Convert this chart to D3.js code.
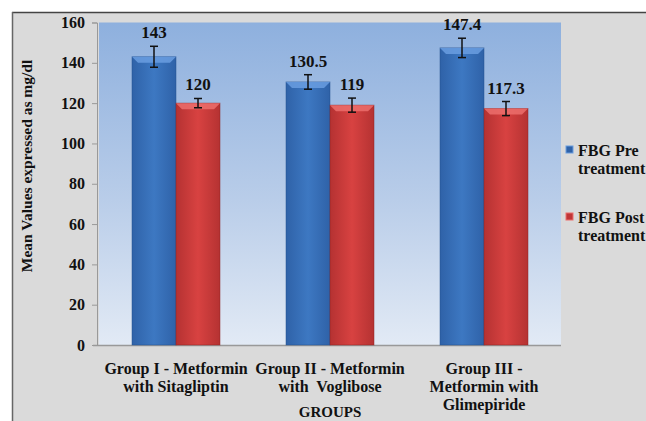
<!DOCTYPE html>
<html><head><meta charset="utf-8">
<script src="https://cdn.jsdelivr.net/npm/d3@7/dist/d3.min.js"></script>
<style>body{margin:0;background:#fff}svg{display:block}text{font-family:"Liberation Serif","Times New Roman",serif;font-weight:bold}</style>
</head><body>
<script>
const categories = [["Group I - Metformin","with Sitagliptin"],["Group II - Metformin","with  Voglibose"],["Group III -","Metformin with","Glimepiride"]];
const seriesNames = ["FBG Pre treatment","FBG Post treatment"];
const preValues = [143,130.5,147.4];
const postValues = [120,119,117.3];
const preErrors = [5.2,3.6,4.8];
const postErrors = [2.3,3.5,3.5];
const valueLabels = [["143","130.5","147.4"],["120","119","117.3"]];
const yTicks = [0,20,40,60,80,100,120,140,160];

(function(){
const W=646,H=421;
const svg=d3.select("body").append("svg").attr("width",W).attr("height",H);
const defs=svg.append("defs");
const bg=defs.append("linearGradient").attr("id","plotbg").attr("x1",0).attr("y1",0).attr("x2",0).attr("y2",1);
bg.append("stop").attr("offset","0%").attr("stop-color","#8eb0de");
bg.append("stop").attr("offset","55%").attr("stop-color","#b9cde9");
bg.append("stop").attr("offset","100%").attr("stop-color","#e2eaf5");
function hgrad(id,c1,c2,c3){const g=defs.append("linearGradient").attr("id",id).attr("x1",0).attr("y1",0).attr("x2",1).attr("y2",0);
 g.append("stop").attr("offset","0%").attr("stop-color",c1);
 g.append("stop").attr("offset","50%").attr("stop-color",c2);
 g.append("stop").attr("offset","100%").attr("stop-color",c3);}
hgrad("gblue","#2f62a8","#3d78c2","#2f62a8");
hgrad("gred","#b53232","#d84241","#b53232");

// outer frame
svg.append("rect").attr("x",12).attr("y",12).attr("width",W-12).attr("height",H-12).attr("fill","#dadada");
svg.append("line").attr("x1",12).attr("x2",W).attr("y1",12.5).attr("y2",12.5).attr("stroke","#444").attr("stroke-width",1.5);
svg.append("line").attr("x1",12.5).attr("x2",12.5).attr("y1",12).attr("y2",H).attr("stroke","#666").attr("stroke-width",1.5);

const pL=99,pR=561,pT=22.5,pB=345;
const x0=d3.scaleBand().domain(d3.range(categories.length)).range([pL,pR]).paddingInner(0).paddingOuter(0);
const x1=d3.scaleBand().domain([0,1]).range([0,x0.bandwidth()]).paddingInner(0).paddingOuter(0.75);
const y=d3.scaleLinear().domain([0,160]).range([pB,pT]);

svg.append("rect").attr("x",pL).attr("y",pT).attr("width",pR-pL).attr("height",pB-pT).attr("fill","url(#plotbg)");

// axes
const yAxis=svg.append("g").attr("transform",`translate(${pL-2},0)`).call(d3.axisLeft(y).tickValues(yTicks).tickSize(5).tickPadding(7));
yAxis.attr("font-family",null);
yAxis.select(".domain").attr("stroke","#999");
yAxis.selectAll(".tick line").attr("stroke","#999");
yAxis.selectAll("text").attr("font-size",16).attr("fill","#111");
svg.append("line").attr("x1",pL-6).attr("x2",pR).attr("y1",pB+0.5).attr("y2",pB+0.5).attr("stroke","#999").attr("stroke-width",1.5);

const series=[{vals:preValues,err:preErrors,fill:"url(#gblue)",tc:"#6a9de0",edge:"#24518f"},
              {vals:postValues,err:postErrors,fill:"url(#gred)",tc:"#ec6e6c",edge:"#8f2424"}];
series.forEach((s,si)=>{
  const g=svg.append("g");
  s.vals.forEach((v,i)=>{
    const bx=x0(i)+x1(si), bw=x1.bandwidth(), by=y(v), bh=pB-by;
    g.append("rect").attr("x",bx).attr("y",by).attr("width",bw).attr("height",bh).attr("fill",s.fill).attr("stroke",s.edge).attr("stroke-width",0.8).attr("stroke-opacity",0.6);
    g.append("path").attr("d",`M${bx},${by}L${bx+bw},${by}L${bx+bw-6},${by+6}L${bx+6},${by+6}Z`).attr("fill",s.tc).attr("opacity",0.85);
    const cx=bx+bw/2, e1=y(v+s.err[i]), e2=y(v-s.err[i]);
    g.append("line").attr("x1",cx).attr("x2",cx).attr("y1",e1).attr("y2",e2).attr("stroke","#111").attr("stroke-width",1.5);
    g.append("line").attr("x1",cx-4).attr("x2",cx+4).attr("y1",e1).attr("y2",e1).attr("stroke","#111").attr("stroke-width",1.5);
    g.append("line").attr("x1",cx-4).attr("x2",cx+4).attr("y1",e2).attr("y2",e2).attr("stroke","#111").attr("stroke-width",1.5);
    g.append("text").attr("x",cx).attr("y",e1-8).attr("text-anchor","middle")
     .attr("font-size",17).attr("fill","#111").text(valueLabels[si][i]);
  });
});

// x labels
categories.forEach((lines,i)=>{
  const t=svg.append("text").attr("text-anchor","middle").attr("font-size",16).attr("fill","#111").style("white-space","pre");
  lines.forEach((ln,k)=>t.append("tspan").attr("x",x0(i)+x0.bandwidth()/2).attr("y",374+k*18).text(ln));
});
svg.append("text").attr("x",330).attr("y",417).attr("text-anchor","middle").attr("font-size",15).attr("fill","#111").text("GROUPS");

// y title
svg.append("text").attr("transform",`translate(32,166) rotate(-90)`).attr("text-anchor","middle")
 .attr("font-size",15.5).attr("fill","#111").text("Mean Values expressed as mg/dl");

// legend
const legY=[150,217];
const legCol=[["#2f62a8","#6a9de0"],["#c03636","#ec6e6c"]];
seriesNames.forEach((nm,i)=>{
  const words=nm.split(" ");
  svg.append("rect").attr("x",566).attr("y",legY[i]-4).attr("width",7).attr("height",7).attr("fill",legCol[i][0]).attr("stroke",legCol[i][1]).attr("stroke-width",1);
  const t=svg.append("text").attr("font-size",16).attr("fill","#111");
  t.append("tspan").attr("x",578).attr("y",legY[i]+6).text(words[0]+" "+words[1]);
  t.append("tspan").attr("x",578).attr("y",legY[i]+24).text(words[2]);
});
})();
</script>
</body></html>
